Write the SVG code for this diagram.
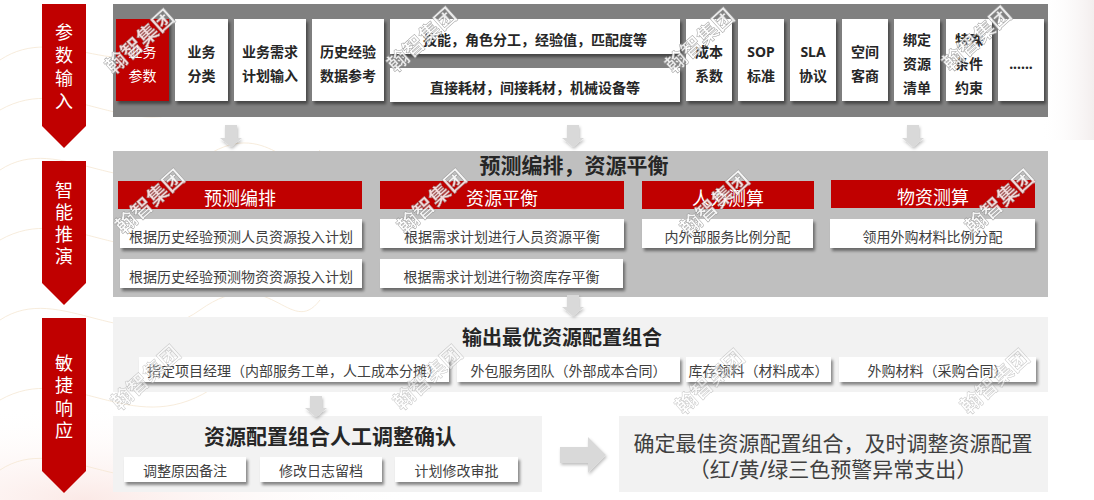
<svg xmlns="http://www.w3.org/2000/svg" width="1094" height="500" viewBox="0 0 1094 500">
  <defs>
    <filter id="sh" x="-10%" y="-20%" width="130%" height="160%">
      <feDropShadow dx="2" dy="3" stdDeviation="1.8" flood-color="#000" flood-opacity="0.45"/>
    </filter>
    <filter id="ash" x="-30%" y="-30%" width="170%" height="170%">
      <feDropShadow dx="1" dy="2" stdDeviation="1.5" flood-color="#000" flood-opacity="0.25"/>
    </filter>
    <radialGradient id="glow" cx="0.2" cy="1" r="0.8">
      <stop offset="0" stop-color="#fbe9e6"/>
      <stop offset="1" stop-color="#ffffff" stop-opacity="0"/>
    </radialGradient>
    <linearGradient id="edge" x1="0" y1="0" x2="1" y2="0">
      <stop offset="0" stop-color="#ffffff" stop-opacity="0"/>
      <stop offset="1" stop-color="#f3eeee"/>
    </linearGradient>
    <style>
      .banner{fill:#c00000}
      .btxt{font-family:"Noto Sans","Noto Sans CJK SC",sans-serif;font-size:18px;fill:#ffffff;text-anchor:middle}
      .p1{fill:#808080}
      .p2{fill:#bfbfbf}
      .p3{fill:#f2f2f2}
      .box{fill:#ffffff;filter:url(#sh)}
      .rbox{fill:#c00000;filter:url(#sh)}
      .hdr{fill:#c00000}
      .t1{font-family:"Noto Sans","Noto Sans CJK SC",sans-serif;font-size:14px;font-weight:bold;fill:#262626;text-anchor:middle}
      .t1w{font-family:"Noto Sans","Noto Sans CJK SC",sans-serif;font-size:14px;fill:#ffffff;text-anchor:middle}
      .t2{font-family:"Noto Sans","Noto Sans CJK SC",sans-serif;font-size:14px;fill:#404040;text-anchor:middle}
      .hdt{font-family:"Noto Sans","Noto Sans CJK SC",sans-serif;font-size:18px;fill:#ffffff;text-anchor:middle}
      .ttl{font-family:"Noto Sans","Noto Sans CJK SC",sans-serif;font-size:20px;font-weight:bold;fill:#262626;text-anchor:middle}
      .big{font-family:"Noto Sans","Noto Sans CJK SC",sans-serif;font-size:21px;fill:#404040;text-anchor:middle}
      .arr{fill:#d9d9d9;filter:url(#ash)}
      .wm{font-family:"Noto Sans","Noto Sans CJK SC",sans-serif;font-size:21px;font-weight:bold;fill:#ffffff;stroke:#8c8c8c;stroke-width:0.5;opacity:0.85;text-anchor:middle}
      .deco{fill:none;stroke:#f5e7d3;stroke-width:0.8}
    </style>
  </defs>

  <!-- background -->
  <rect x="0" y="0" width="1094" height="500" fill="#ffffff"/>
  <rect x="0" y="380" width="420" height="120" fill="url(#glow)"/>
  <rect x="1040" y="0" width="54" height="140" fill="url(#edge)"/>
  <g id="decoration">
    <path class="deco" d="M0,60 C60,20 120,90 200,40 S300,70 330,30"/>
    <path class="deco" d="M0,110 C70,70 130,150 210,100 S300,130 330,90"/>
    <path class="deco" d="M0,170 C60,130 130,210 200,160 S290,190 320,150"/>
    <path class="deco" d="M0,240 C70,200 130,280 210,230 S300,260 330,220"/>
    <path class="deco" d="M0,320 C60,280 130,360 200,310 S290,340 320,300"/>
    <path class="deco" d="M0,400 C70,360 130,440 210,390 S300,420 330,380"/>
    <path class="deco" d="M0,470 C60,430 130,510 200,460 S290,490 320,450"/>
  </g>

  <!-- left stage banners -->
  <g id="stage-1">
    <path class="banner" d="M42,4 H86 V126 L64,148 L42,126 Z"/>
    <text class="btxt"><tspan x="64" y="39">参</tspan><tspan x="64" y="62">数</tspan><tspan x="64" y="85">输</tspan><tspan x="64" y="108">入</tspan></text>
  </g>
  <g id="stage-2">
    <path class="banner" d="M42,161 H86 V283 L64,305 L42,283 Z"/>
    <text class="btxt"><tspan x="64" y="197">智</tspan><tspan x="64" y="219">能</tspan><tspan x="64" y="241">推</tspan><tspan x="64" y="263">演</tspan></text>
  </g>
  <g id="stage-3">
    <path class="banner" d="M42,318 H86 V471 L64,493 L42,471 Z"/>
    <text class="btxt"><tspan x="64" y="370">敏</tspan><tspan x="64" y="392">捷</tspan><tspan x="64" y="415">响</tspan><tspan x="64" y="437">应</tspan></text>
  </g>

  <!-- panel 1: parameter input -->
  <g id="panel-input">
    <rect class="p1" x="113" y="4" width="935" height="113"/>
    <g id="n-ywcs">
      <rect class="rbox" x="116" y="19" width="53" height="82"/>
      <text class="t1w"><tspan x="142.5" y="57">业务</tspan><tspan x="142.5" y="81">参数</tspan></text>
    </g>
    <g id="n-ywfl">
      <rect class="box" x="175" y="19" width="53" height="82"/>
      <text class="t1"><tspan x="201.5" y="57">业务</tspan><tspan x="201.5" y="81">分类</tspan></text>
    </g>
    <g id="n-xqjh">
      <rect class="box" x="234" y="19" width="72" height="82"/>
      <text class="t1"><tspan x="270" y="57">业务需求</tspan><tspan x="270" y="81">计划输入</tspan></text>
    </g>
    <g id="n-lsjy">
      <rect class="box" x="312" y="19" width="72" height="82"/>
      <text class="t1"><tspan x="348" y="57">历史经验</tspan><tspan x="348" y="81">数据参考</tspan></text>
    </g>
    <g id="n-jn">
      <rect class="box" x="390" y="19" width="290" height="35"/>
      <text class="t1" x="535" y="45">技能，角色分工，经验值，匹配度等</text>
    </g>
    <g id="n-hc">
      <rect class="box" x="390" y="68" width="290" height="34"/>
      <text class="t1" x="535" y="93">直接耗材，间接耗材，机械设备等</text>
    </g>
    <g id="n-cbxs">
      <rect class="box" x="686" y="19" width="46" height="82"/>
      <text class="t1"><tspan x="709" y="57">成本</tspan><tspan x="709" y="81">系数</tspan></text>
    </g>
    <g id="n-sop">
      <rect class="box" x="738" y="19" width="46" height="82"/>
      <text class="t1"><tspan x="761" y="57">SOP</tspan><tspan x="761" y="81">标准</tspan></text>
    </g>
    <g id="n-sla">
      <rect class="box" x="790" y="19" width="46" height="82"/>
      <text class="t1"><tspan x="813" y="57">SLA</tspan><tspan x="813" y="81">协议</tspan></text>
    </g>
    <g id="n-kjks">
      <rect class="box" x="842" y="19" width="46" height="82"/>
      <text class="t1"><tspan x="865" y="57">空间</tspan><tspan x="865" y="81">客商</tspan></text>
    </g>
    <g id="n-bdzy">
      <rect class="box" x="894" y="19" width="46" height="82"/>
      <text class="t1"><tspan x="917" y="45">绑定</tspan><tspan x="917" y="69">资源</tspan><tspan x="917" y="93">清单</tspan></text>
    </g>
    <g id="n-tstj">
      <rect class="box" x="946" y="19" width="46" height="82"/>
      <text class="t1"><tspan x="969" y="45">特殊</tspan><tspan x="969" y="69">条件</tspan><tspan x="969" y="93">约束</tspan></text>
    </g>
    <g id="n-more">
      <rect class="box" x="998" y="19" width="46" height="82"/>
      <text class="t1" x="1021" y="69">......</text>
    </g>
  </g>

  <!-- panel 2: intelligent deduction -->
  <g id="panel-deduce">
    <rect class="p2" x="113" y="151" width="935" height="146"/>
    <text class="ttl" x="574" y="173" style="font-size:21px">预测编排，资源平衡</text>
    <g id="h-ycbp">
      <rect class="hdr" x="118" y="181" width="244" height="28"/>
      <text class="hdt" x="240" y="205">预测编排</text>
    </g>
    <g id="h-zyph">
      <rect class="hdr" x="380" y="181" width="244" height="28"/>
      <text class="hdt" x="502" y="205">资源平衡</text>
    </g>
    <g id="h-rlcs">
      <rect class="hdr" x="642" y="181" width="172" height="28"/>
      <text class="hdt" x="728" y="205">人力测算</text>
    </g>
    <g id="h-wzcs">
      <rect class="hdr" x="831" y="180" width="204" height="28"/>
      <text class="hdt" x="933" y="204">物资测算</text>
    </g>
    <g id="n-ry-plan">
      <rect class="box" x="120" y="219" width="242" height="29"/>
      <text class="t2" x="241" y="242">根据历史经验预测人员资源投入计划</text>
    </g>
    <g id="n-wz-plan">
      <rect class="box" x="120" y="259" width="242" height="29"/>
      <text class="t2" x="241" y="282">根据历史经验预测物资资源投入计划</text>
    </g>
    <g id="n-ry-bal">
      <rect class="box" x="380" y="219" width="244" height="29"/>
      <text class="t2" x="502" y="242">根据需求计划进行人员资源平衡</text>
    </g>
    <g id="n-wz-bal">
      <rect class="box" x="380" y="259" width="243" height="29"/>
      <text class="t2" x="501.5" y="282">根据需求计划进行物资库存平衡</text>
    </g>
    <g id="n-nwb">
      <rect class="box" x="642" y="219" width="171" height="29"/>
      <text class="t2" x="727.5" y="242">内外部服务比例分配</text>
    </g>
    <g id="n-lywg">
      <rect class="box" x="830" y="219" width="205" height="29"/>
      <text class="t2" x="932.5" y="242">领用外购材料比例分配</text>
    </g>
  </g>

  <!-- panel 3: output -->
  <g id="panel-output">
    <rect class="p3" x="113" y="317" width="935" height="75"/>
    <text class="ttl" x="562" y="345">输出最优资源配置组合</text>
    <g id="n-xmjl">
      <rect class="box" x="139" y="357" width="310" height="25"/>
      <text class="t2" x="294" y="376">指定项目经理（内部服务工单，人工成本分摊）</text>
    </g>
    <g id="n-wbfw">
      <rect class="box" x="457" y="357" width="223" height="25"/>
      <text class="t2" x="568.5" y="376">外包服务团队（外部成本合同）</text>
    </g>
    <g id="n-kcll">
      <rect class="box" x="686" y="357" width="145" height="25"/>
      <text class="t2" x="758.5" y="376">库存领料（材料成本）</text>
    </g>
    <g id="n-wgcl">
      <rect class="box" x="839" y="357" width="197" height="25"/>
      <text class="t2" x="937.5" y="376">外购材料（采购合同）</text>
    </g>
  </g>

  <!-- panel 4: manual adjustment -->
  <g id="panel-adjust">
    <rect class="p3" x="113" y="416" width="429" height="76"/>
    <text class="ttl" x="330" y="444" style="font-size:21px">资源配置组合人工调整确认</text>
    <g id="n-tzyy">
      <rect class="box" x="124" y="457" width="122" height="25"/>
      <text class="t2" x="185" y="476">调整原因备注</text>
    </g>
    <g id="n-xgrz">
      <rect class="box" x="260" y="457" width="122" height="25"/>
      <text class="t2" x="321" y="476">修改日志留档</text>
    </g>
    <g id="n-jhsp">
      <rect class="box" x="395" y="457" width="123" height="25"/>
      <text class="t2" x="456.5" y="476">计划修改审批</text>
    </g>
  </g>

  <!-- panel 5: result -->
  <g id="panel-result">
    <rect class="p3" x="619" y="416" width="429" height="76"/>
    <text class="big" x="833" y="451">确定最佳资源配置组合，及时调整资源配置</text>
    <text class="big" x="833" y="477">（红/黄/绿三色预警异常支出）</text>
  </g>

  <!-- connectors -->
  <g id="connectors">
    <path class="arr" d="M225,125 H237 V138 H242 L231,147 L220,138 H225 Z"/>
    <path class="arr" d="M567,125 H579 V138 H584 L573,147 L562,138 H567 Z"/>
    <path class="arr" d="M907,125 H919 V138 H924 L913,147 L902,138 H907 Z"/>
    <path class="arr" d="M567,295 H579 V307 H584 L573,316 L562,307 H567 Z"/>
    <path class="arr" d="M310,396 H322 V408 H327 L316,417 L305,408 H310 Z"/>
    <path class="arr" d="M560,447 H588 V437 L606,455 L588,473 V463 H560 Z"/>
  </g>

  <!-- watermark -->
  <g id="watermark">
    <text class="wm" transform="translate(140,42) rotate(-42)" y="7">翰智集团</text>
    <text class="wm" transform="translate(422,40) rotate(-42)" y="7">翰智集团</text>
    <text class="wm" transform="translate(700,41) rotate(-42)" y="7">翰智集团</text>
    <text class="wm" transform="translate(977,39) rotate(-42)" y="7">翰智集团</text>
    <text class="wm" transform="translate(150,202) rotate(-42)" y="7">翰智集团</text>
    <text class="wm" transform="translate(432,202) rotate(-42)" y="7">翰智集团</text>
    <text class="wm" transform="translate(715,204) rotate(-42)" y="7">翰智集团</text>
    <text class="wm" transform="translate(1000,202) rotate(-42)" y="7">翰智集团</text>
    <text class="wm" transform="translate(146,378) rotate(-42)" y="7" style="opacity:0.5">翰智集团</text>
    <text class="wm" transform="translate(428,378) rotate(-42)" y="7" style="opacity:0.5">翰智集团</text>
    <text class="wm" transform="translate(710,382) rotate(-42)" y="7" style="opacity:0.5">翰智集团</text>
    <text class="wm" transform="translate(995,382) rotate(-42)" y="7" style="opacity:0.5">翰智集团</text>
  </g>
</svg>
